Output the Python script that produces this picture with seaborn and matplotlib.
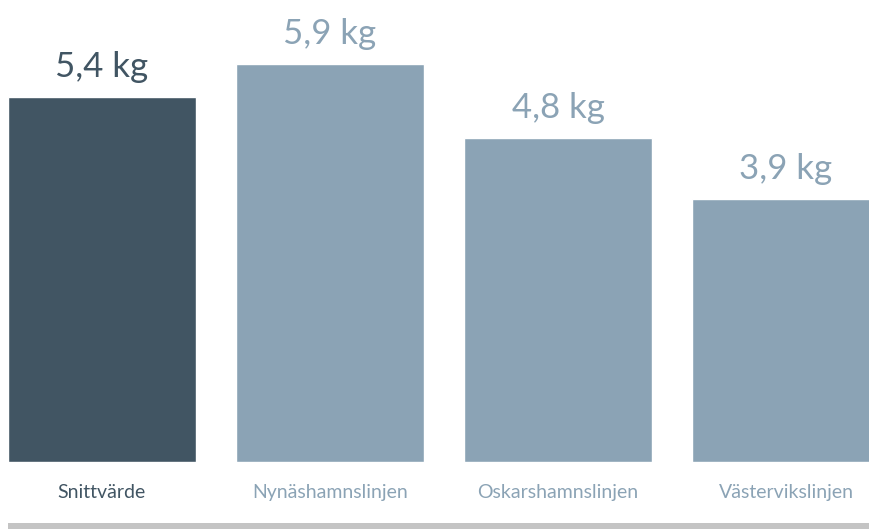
import matplotlib
matplotlib.use("Agg")
import matplotlib.pyplot as plt
import seaborn as sns
import pandas as pd
from matplotlib.patches import Rectangle

# data
categories = ["Snittvärde", "Nynäshamnslinjen", "Oskarshamnslinjen", "Västervikslinjen"]
values = [5.4, 5.9, 4.8, 3.9]
value_labels = ["5,4 kg", "5,9 kg", "4,8 kg", "3,9 kg"]

dark = "#415563"
light = "#8ba3b5"
colors = [dark, light, light, light]

df = pd.DataFrame({"linje": categories, "kg": values})

sns.set_theme(style="white")
plt.rcParams["font.family"] = ["Lato", "DejaVu Sans"]

fig = plt.figure(figsize=(8.69, 5.29), dpi=100)
ax = fig.add_axes([0, 67 / 529, 1, 462 / 529])

sns.barplot(data=df, x="linje", y="kg", hue="linje", palette=colors,
            width=0.825, legend=False, saturation=1, ax=ax)

ax.set_xlim(-0.447, 3.364)
ax.set_ylim(0, 462 / 67.5)
sns.despine(ax=ax, left=True, bottom=True)
ax.set_yticks([])
ax.set_xlabel("")
ax.set_ylabel("")

# value labels above bars
for i, (v, lab) in enumerate(zip(values, value_labels)):
    ax.annotate(lab, (i, v), xytext=(0, 14.5), textcoords="offset points",
                ha="center", va="baseline", fontsize=25, color=colors[i],
                fontweight="normal")

# category labels
ax.set_xticks(range(len(categories)))
ax.set_xticklabels(categories, fontsize=14, fontweight="normal")
ax.tick_params(axis="x", length=0, pad=16)
for tl, c in zip(ax.get_xticklabels(), colors):
    tl.set_color(c)

# grey band at bottom
fig.patches.append(Rectangle((8 / 869, 0), 1, 6 / 529, transform=fig.transFigure,
                             facecolor="#c4c4c4", edgecolor="none", figure=fig))

fig.savefig("out.png", dpi=100)
